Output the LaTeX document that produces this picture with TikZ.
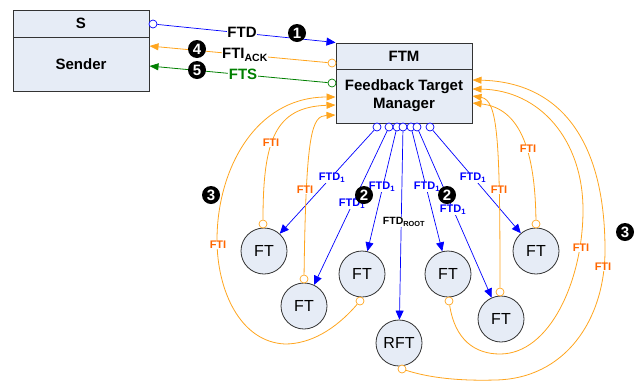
\documentclass[tikz,border=0pt]{standalone}
\usepackage{fontspec}
\setmainfont{Liberation Sans}
\usetikzlibrary{arrows.meta,calc}
\definecolor{boxfill}{RGB}{230,236,246}
\definecolor{edgec}{RGB}{51,51,51}
\definecolor{orl}{RGB}{255,165,30}
\definecolor{ortxt}{RGB}{255,102,0}
\definecolor{grn}{RGB}{0,128,0}
\begin{document}
\begin{tikzpicture}[x=1pt,y=-1pt,
 box/.style={draw=edgec,fill=boxfill,line width=1pt,inner sep=0pt,align=center,font=\fontsize{15}{18}\selectfont\bfseries},
 ftc/.style={circle,draw=edgec,fill=boxfill,line width=0.8pt,minimum size=46pt,inner sep=0pt,font=\fontsize{16}{18}\selectfont},
 port/.style={circle,draw=#1,fill=white,line width=0.7pt,minimum size=8pt,inner sep=0pt},
 num/.style={circle,fill=black,text=white,minimum size=18pt,inner sep=0pt,font=\fontsize{15}{15}\selectfont\bfseries},
 ftdl/.style={text=blue,fill=white,inner sep=0.5pt,font=\fontsize{11}{12}\selectfont\bfseries},
 ftil/.style={text=ortxt,fill=white,inner sep=0.5pt,font=\fontsize{11}{12}\selectfont\bfseries},
 biglab/.style={fill=white,inner sep=0.5pt,font=\fontsize{15}{16}\selectfont\bfseries},
 bline/.style={draw=blue,line width=0.7pt,-{Triangle[length=9pt,width=8pt]}},
 oline/.style={draw=orl,line width=0.8pt,-{Triangle[length=9pt,width=7pt]}},
 gline/.style={draw=grn,line width=0.8pt,-{Triangle[length=9pt,width=7pt]}},
]
\useasboundingbox (0,0) rectangle (639,381);
% boxes
\node[box,minimum width=136pt,minimum height=27pt] (S) at (81,23.5) {S};
\node[box,minimum width=136pt,minimum height=54pt] (sender) at (81,64) {Sender};
\node[box,minimum width=136pt,minimum height=26pt] (ftmh) at (404,56) {FTM};
\node[box,minimum width=136pt,minimum height=54pt] (ftm) at (404,96) {Feedback Target\\Manager};
% FT circles
\node[ftc] (ft1) at (264,251) {FT};
\node[ftc] (ft2) at (304,306) {FT};
\node[ftc] (ft3) at (362,274) {FT};
\node[ftc] (rft) at (399,343) {RFT};
\node[ftc] (ft4) at (448,274) {FT};
\node[ftc] (ft5) at (501,319) {FT};
\node[ftc] (ft6) at (536,251) {FT};
% ports
\node[port=blue] (p1) at (153,24) {};
\node[port=orl] (p4) at (332,63) {};
\node[port=grn] (p5) at (332,83) {};
\node[port=blue] (b1) at (377,127) {};
\node[port=blue] (b2) at (389,127) {};
\node[port=blue] (b3) at (397,127) {};
\node[port=blue] (b4) at (403,127) {};
\node[port=blue] (b5) at (411,127) {};
\node[port=blue] (b6) at (417,127) {};
\node[port=blue] (b7) at (430,127) {};
\node[port=orl] (o1) at (263,224) {};
\node[port=orl] (o2) at (304,279) {};
\node[port=orl] (o3) at (360,301) {};
\node[port=orl] (orft) at (402,369) {};
\node[port=orl] (o4) at (449,301) {};
\node[port=orl] (o5) at (500,292) {};
\node[port=orl] (o6) at (536,224) {};
% top connectors
\draw[bline] (p1) -- (ftmh.north west);
\draw[oline] (p4) -- ([yshift=18pt]sender.east);
\draw[gline] (p5) -- ([yshift=-2pt]sender.east);
% blue FTD lines
\draw[bline] (b1) -- (ft1);
\draw[bline] (b2) -- (ft2);
\draw[bline] (b3) -- (ft3);
\draw[bline] (b4) -- (rft);
\draw[bline] (b5) -- (ft4);
\draw[bline] (b6) -- (ft5);
\draw[bline] (b7) -- (ft6);
% orange FTI curves, left
\draw[oline] (o1) .. controls (263,140) and (275,107) .. ([yshift=-9pt]ftm.west);
\draw[oline] (o2) .. controls (306,130) and (312,116) .. ([yshift=-19pt]ftm.west);
\draw[oline] (o3) .. controls (335,330) and (310,344) .. (285,344) .. controls (240,342) and (217,290) .. (217,240) .. controls (217,170) and (255,97) .. ([yshift=-1pt]ftm.west);
% orange FTI curves, right
\draw[oline] (o6) .. controls (535,150) and (520,108) .. ([yshift=-7pt]ftm.east);
\draw[oline] (o5) .. controls (500,140) and (498,100) .. (ftm.east);
\draw[oline] (o4) .. controls (455,340) and (475,354) .. (500,354) .. controls (550,354) and (583,280) .. (583,210) .. controls (583,140) and (540,90) .. ([yshift=7pt]ftm.east);
\draw[oline] (orft) .. controls (430,378) and (460,381) .. (495,380) .. controls (565,379) and (605,320) .. (605,250) .. controls (605,140) and (560,82) .. ([yshift=16pt]ftm.east);
% labels
\node[biglab] (lftd) at (242,32) {FTD};
\node[biglab] (lack) at (245,55) {FTI\textsubscript{ACK}};
\node[biglab,text=grn] (lfts) at (243,74) {FTS};
\node[ftdl] (d1) at (332,178) {FTD\textsubscript{1}};
\node[ftdl] (d2) at (352,204) {FTD\textsubscript{1}};
\node[ftdl] (d3) at (382,187) {FTD\textsubscript{1}};
\node[ftdl,text=black,font=\fontsize{10.5}{12}\selectfont\bfseries] (droot) at (404,222) {FTD\textsubscript{ROOT}};
\node[ftdl] (d5) at (427,187) {FTD\textsubscript{1}};
\node[ftdl] (d6) at (453,210) {FTD\textsubscript{1}};
\node[ftdl] (d7) at (473,178) {FTD\textsubscript{1}};
\node[ftil] (i1) at (271,143) {FTI};
\node[ftil] (i2) at (305,190) {FTI};
\node[ftil] (i3) at (218,245) {FTI};
\node[ftil] (i4) at (528,149) {FTI};
\node[ftil] (i5) at (499,190) {FTI};
\node[ftil] (i6) at (581,248) {FTI};
\node[ftil] (i7) at (603,267) {FTI};
% step numbers
\node[num] (n1) at (297,33) {1};
\node[num] (n4) at (197,49) {4};
\node[num] (n5) at (197,70) {5};
\node[num] (n2a) at (364,195) {2};
\node[num] (n2b) at (447,195) {2};
\node[num] (n3a) at (211,195) {3};
\node[num] (n3b) at (625,232) {3};
\end{tikzpicture}
\end{document}
